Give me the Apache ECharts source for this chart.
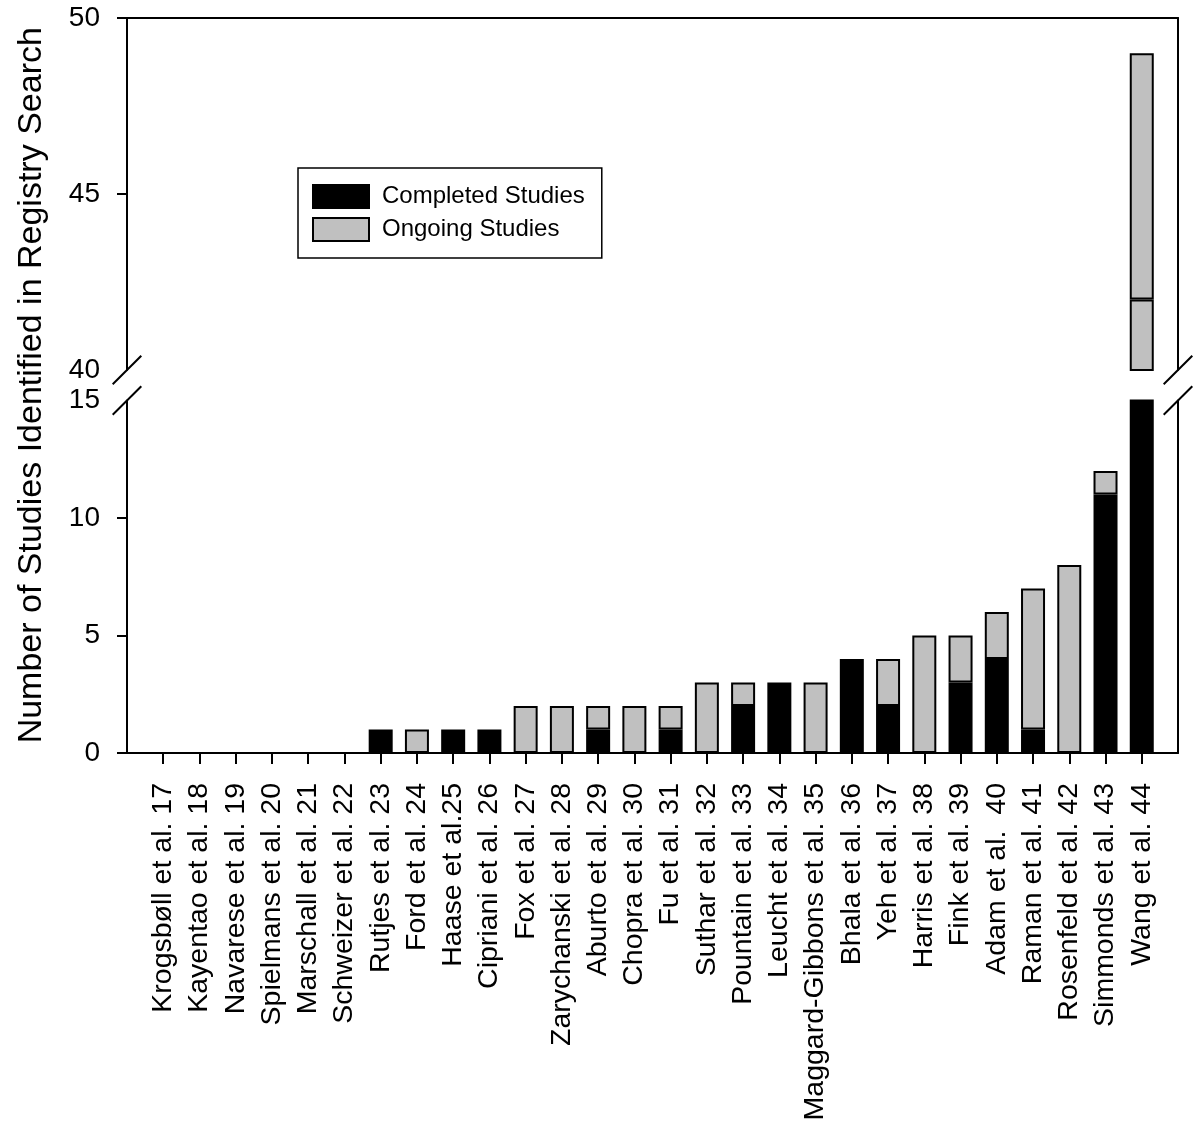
<!DOCTYPE html>
<html>
<head>
<meta charset="utf-8">
<script src="https://cdn.jsdelivr.net/npm/echarts@6/dist/echarts.min.js"></script>
<style>html,body{margin:0;padding:0;background:#fff}#chart{width:1200px;height:1137px}</style>
</head>
<body>
<div id="chart"></div>
<script>
// ---- data ----
const studies = ['Krogsbøll et al. 17', 'Kayentao et al. 18', 'Navarese et al. 19', 'Spielmans et al. 20',
  'Marschall et al. 21', 'Schweizer et al. 22', 'Rutjes et al. 23', 'Ford et al. 24', 'Haase et al.25',
  'Cipriani et al. 26', 'Fox et al. 27', 'Zarychanski et al. 28', 'Aburto et al. 29', 'Chopra et al. 30',
  'Fu et al. 31', 'Suthar et al. 32', 'Pountain et al. 33', 'Leucht et al. 34', 'Maggard-Gibbons et al. 35',
  'Bhala et al. 36', 'Yeh et al. 37', 'Harris et al. 38', 'Fink et al. 39', 'Adam et al.  40',
  'Raman et al. 41', 'Rosenfeld et al. 42', 'Simmonds et al. 43', 'Wang et al. 44'];
const completed = [0,0,0,0,0,0,1,0,1,1,0,0,1,0,1,0,2,3,0,4,2,0,3,4,1,0,11,42];
const ongoing   = [0,0,0,0,0,0,0,1,0,0,2,2,1,2,1,3,1,0,3,0,2,5,2,2,6,8,1,7];
const lowerTickValues = [0, 5, 10];
const lowerLabelValues = [0, 5, 10, 15];
const upperTickValues = [45, 50];
const upperLabelValues = [40, 45, 50];
const lowerRange = [0, 15];
const upperRange = [40, 50];
const legendNames = ['Completed Studies', 'Ongoing Studies'];
const yTitle = 'Number of Studies Identified in Registry Search';

// ---- build ----
const FONT = '"Liberation Sans", Arial, Helvetica, sans-serif';
const GRAY = '#c0c0c0';
const cats = [' '].concat(studies, ['  ']);
const pad = arr => ['-'].concat(arr, ['-']);
const nz = v => (v > 0 ? v : '-');
const lowerC = pad(completed.map(nz));
const lowerO = pad(ongoing.map(nz));
const upperC = pad(completed.map((v, i) => (v + ongoing[i] > upperRange[0] && v > 0) ? { value: v, itemStyle: { color: GRAY } } : '-'));
const upperO = pad(ongoing.map((v, i) => (v + completed[i] > upperRange[0] && v > 0) ? v : '-'));
const axisLineStyle = { color: '#000', width: 2 };
const inner = (i) => i > 0 && i < cats.length - 1;

const chart = echarts.init(document.getElementById('chart'), null, { renderer: 'canvas' });
const barCommon = { type: 'bar', barWidth: 24, animation: false };
const option = {
  animation: false,
  backgroundColor: '#fff',
  grid: [
    { left: 127, right: 22, top: 18, height: 352 },
    { left: 127, right: 22, top: 400.5, height: 352.5 }
  ],
  legend: {
    data: legendNames, orient: 'vertical', left: 298, top: 168,
    padding: [16, 17, 16, 14], itemWidth: 56, itemHeight: 23, itemGap: 8,
    borderColor: '#000', borderWidth: 1.5, backgroundColor: '#fff',
    icon: 'rect', selectedMode: false,
    textStyle: { fontSize: 24, lineHeight: 23, fontFamily: FONT, color: '#000', padding: [0, 0, 0, 8] }
  },
  xAxis: [
    { gridIndex: 0, type: 'category', data: cats, boundaryGap: false, position: 'top',
      axisLine: { show: true, lineStyle: axisLineStyle }, axisTick: { show: false }, axisLabel: { show: false }, splitLine: { show: false } },
    { gridIndex: 1, type: 'category', data: cats, boundaryGap: false, position: 'bottom',
      axisLine: { show: true, onZero: false, lineStyle: axisLineStyle },
      axisTick: { show: true, inside: false, length: 11, interval: inner, lineStyle: axisLineStyle },
      axisLabel: { interval: inner, rotate: 90, fontSize: 28.5, margin: 30, color: '#000', fontFamily: FONT },
      splitLine: { show: false } }
  ],
  yAxis: [
    { gridIndex: 0, type: 'value', position: 'left', min: upperRange[0], max: upperRange[1], interval: 5,
      axisLine: { show: true, lineStyle: axisLineStyle },
      axisTick: { show: true, inside: false, length: 10, customValues: upperTickValues, lineStyle: axisLineStyle },
      axisLabel: { customValues: upperLabelValues, fontSize: 28, margin: 27, color: '#000', fontFamily: FONT },
      splitLine: { show: false } },
    { gridIndex: 0, type: 'value', position: 'right', min: upperRange[0], max: upperRange[1],
      axisLine: { show: true, lineStyle: axisLineStyle }, axisTick: { show: false }, axisLabel: { show: false }, splitLine: { show: false } },
    { gridIndex: 1, type: 'value', position: 'left', min: lowerRange[0], max: lowerRange[1], interval: 5,
      axisLine: { show: true, onZero: false, lineStyle: axisLineStyle },
      axisTick: { show: true, inside: false, length: 10, customValues: lowerTickValues, lineStyle: axisLineStyle },
      axisLabel: { customValues: lowerLabelValues, fontSize: 28, margin: 27, color: '#000', fontFamily: FONT },
      splitLine: { show: false } },
    { gridIndex: 1, type: 'value', position: 'right', min: lowerRange[0], max: lowerRange[1],
      axisLine: { show: true, onZero: false, lineStyle: axisLineStyle }, axisTick: { show: false }, axisLabel: { show: false }, splitLine: { show: false } }
  ],
  series: [
    Object.assign({}, barCommon, { name: legendNames[0], xAxisIndex: 1, yAxisIndex: 2, stack: 'lower', data: lowerC,
      itemStyle: { color: '#000', borderColor: '#000', borderWidth: 2 } }),
    Object.assign({}, barCommon, { name: legendNames[1], xAxisIndex: 1, yAxisIndex: 2, stack: 'lower', data: lowerO,
      itemStyle: { color: GRAY, borderColor: '#000', borderWidth: 2 } }),
    Object.assign({}, barCommon, { name: legendNames[0], xAxisIndex: 0, yAxisIndex: 0, stack: 'upper', data: upperC,
      itemStyle: { color: '#000', borderColor: '#000', borderWidth: 2 } }),
    Object.assign({}, barCommon, { name: legendNames[1], xAxisIndex: 0, yAxisIndex: 0, stack: 'upper', data: upperO,
      itemStyle: { color: GRAY, borderColor: '#000', borderWidth: 2 } })
  ]
};
chart.setOption(option);

// axis-break marks and rotated axis title, placed from the axes' own scales
const xL = chart.convertToPixel({ xAxisIndex: 1 }, 0);
const xR = chart.convertToPixel({ xAxisIndex: 1 }, cats.length - 1);
const yTop = chart.convertToPixel({ yAxisIndex: 0 }, upperRange[0]);
const yBot = chart.convertToPixel({ yAxisIndex: 2 }, lowerRange[1]);
const h = 14.3;
const breakLine = (x, y) => ({ type: 'line', shape: { x1: x - h, y1: y + h, x2: x + h, y2: y - h },
  style: { stroke: '#000', lineWidth: 2 }, z: 100 });
chart.setOption({
  graphic: [
    breakLine(xL, yTop), breakLine(xL, yBot), breakLine(xR, yTop), breakLine(xR, yBot),
    { type: 'text', x: 32, y: (yTop + yBot) / 2, rotation: Math.PI / 2,
      style: { text: yTitle, fontSize: 34, fontFamily: FONT, fill: '#000', align: 'center', verticalAlign: 'middle' } }
  ]
});
</script>
</body>
</html>
